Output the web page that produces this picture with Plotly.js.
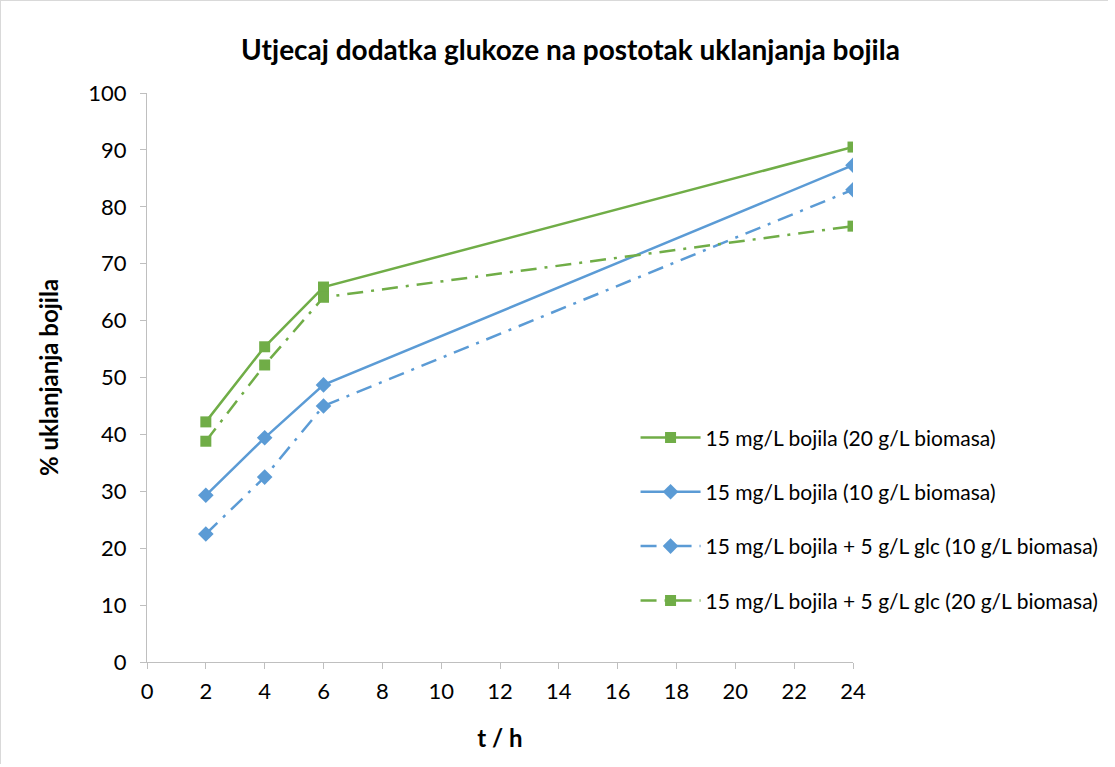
<!DOCTYPE html>
<html><head><meta charset="utf-8">
<script src="https://cdn.plot.ly/plotly-3.0.1.min.js"></script>
<style>body{margin:0;background:#fff}#c{width:1108px;height:764px;border:1px solid #d9d9d9;box-sizing:border-box}</style>
</head><body><div id="c"></div>
<script>
const tHours = [2, 4, 6, 24];
const green20 = [42.2, 55.4, 65.9, 90.5];
const blue10 = [29.3, 39.4, 48.7, 87.3];
const blue10glc = [22.5, 32.5, 45.0, 83.0];
const green20glc = [38.8, 52.2, 64.1, 76.6];
const xTicks = [0,2,4,6,8,10,12,14,16,18,20,22,24];
const names = [
  "15 mg/L bojila (20 g/L biomasa)",
  "15 mg/L bojila (10 g/L biomasa)",
  "15 mg/L bojila + 5 g/L glc (10 g/L biomasa)",
  "15 mg/L bojila + 5 g/L glc (20 g/L biomasa)"
];
const GREEN = "#70AD47", BLUE = "#5B9BD5";
const DASHDOT = "16px,8px,3px,8px";
function tr(y, name, color, dash, sym, i){
  return {x: tHours, y: y, name: name, type: "scatter", mode: "lines+markers",
    legendgroup: "g"+i,
    line: {color: color, width: 2.5, dash: dash},
    marker: {color: color, symbol: sym, size: sym === "square" ? 11 : 12}};
}
const data = [
  tr(green20, names[0], GREEN, "solid", "square", 0),
  tr(blue10, names[1], BLUE, "solid", "diamond", 1),
  tr(blue10glc, names[2], BLUE, DASHDOT, "diamond", 2),
  tr(green20glc, names[3], GREEN, DASHDOT, "square", 3)
];
const F = "Lato, 'Open Sans', sans-serif";
const layout = {
  width: 1108, height: 764,
  margin: {l: 146, r: 256, t: 92, b: 103, autoexpand: false},
  paper_bgcolor: "#fff", plot_bgcolor: "#fff",
  font: {family: F, size: 21, color: "#000"},
  title: {text: "<b>Utjecaj dodatka glukoze na postotak uklanjanja bojila</b>", font: {size: 28, family: F, color: "#000"}, x: 0.514, xanchor: "center", y: 0.935, yanchor: "middle"},
  xaxis: {range: [0, 24], tickvals: xTicks, showgrid: false, zeroline: false,
    showline: true, linecolor: "#bfbfbf", linewidth: 1, ticks: "outside", ticklen: 6, tickcolor: "#bfbfbf",
    tickfont: {size: 22, family: F}, ticklabelstandoff: 4,
    title: {text: "<b>t / h</b>", font: {size: 24, family: F}, standoff: 26}},
  yaxis: {range: [0, 100], dtick: 10, showgrid: false, zeroline: false,
    showline: true, linecolor: "#bfbfbf", linewidth: 1, ticks: "outside", ticklen: 6, tickcolor: "#bfbfbf",
    tickfont: {size: 22, family: F}, ticklabelstandoff: 9,
    title: {text: "<b>% uklanjanja bojila</b>", font: {size: 24, family: F}, standoff: 22}},
  legend: {x: 0.692, y: 0.43, xanchor: "left", yanchor: "top", traceorder: "grouped", tracegroupgap: 24,
    itemwidth: 60,
    font: {size: 21, family: F}, bgcolor: "rgba(0,0,0,0)"},
  showlegend: true
};
Plotly.newPlot("c", data, layout, {displayModeBar: false});
</script></body></html>
